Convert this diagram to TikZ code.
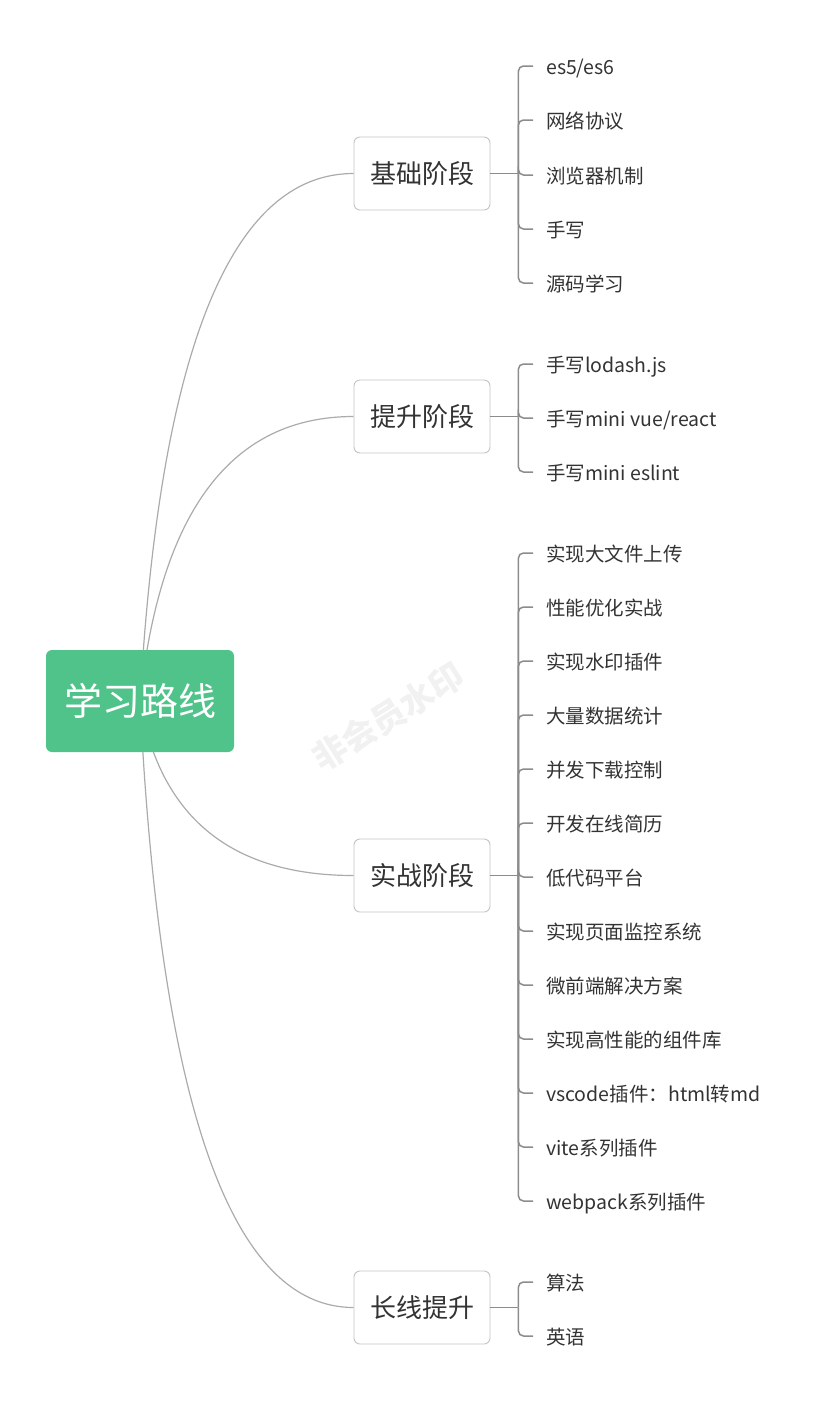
\documentclass[tikz,border=0pt]{standalone}
\usepackage{fontspec}
\setmainfont{Noto Sans CJK SC}
\usetikzlibrary{calc,backgrounds}
\definecolor{rootgreen}{HTML}{50C38A}
\definecolor{textgray}{HTML}{333333}
\definecolor{boxgray}{HTML}{C4C4C4}
\definecolor{trunkgray}{HTML}{ABABAB}
\definecolor{twiggray}{HTML}{8C8C8C}
\definecolor{wmgray}{HTML}{F1F1F1}
\begin{document}
\begin{tikzpicture}[x=1pt,y=1pt]
        \tikzstyle{root}=[rectangle,rounded corners=6pt,fill=rootgreen,text=white,minimum width=188pt,minimum height=102pt,font=\fontsize{38}{40}\selectfont]
        \tikzstyle{stage}=[rectangle,rounded corners=6pt,draw=boxgray,line width=0.9pt,fill=white,text=textgray,minimum width=136pt,minimum height=73pt,font=\fontsize{26}{28}\selectfont]
        \tikzstyle{topic}=[anchor=west,inner xsep=13pt,inner ysep=0pt,text height=17pt,text depth=0pt,text=textgray,font=\fontsize{19.5}{22}\selectfont]
        \tikzstyle{trunk}=[draw=trunkgray,line width=1.2pt]
        \tikzstyle{twig}=[draw=twiggray,line width=1.5pt,rounded corners=5pt]
        \tikzstyle{stamp}=[rotate=32,text=wmgray,font=\fontsize{34}{36}\selectfont\bfseries]
        \useasboundingbox (0,0) rectangle (828,-1401);
        \node [stamp] (wm) at (388,-717) {非会员水印};
        \node [root] (root) at (140,-701) {学习路线};
        \node [stage] (jc) at (422,-173.5) {基础阶段};
        \node [stage] (ts) at (422,-416.5) {提升阶段};
        \node [stage] (sz) at (422,-875.5) {实战阶段};
        \node [stage] (cx) at (422,-1307.5) {长线提升};
        % basics
        \node [topic] (jc1) at (533,-66) {es5/es6};
        \node [topic] (jc2) at (533,-120) {网络协议};
        \node [topic] (jc3) at (533,-175) {浏览器机制};
        \node [topic] (jc4) at (533,-229) {手写};
        \node [topic] (jc5) at (533,-283) {源码学习};
        % level up
        \node [topic] (ts1) at (533,-364) {手写lodash.js};
        \node [topic] (ts2) at (533,-418) {手写mini vue/react};
        \node [topic] (ts3) at (533,-472) {手写mini eslint};
        % practice
        \node [topic] (sz1) at (533,-553) {实现大文件上传};
        \node [topic] (sz2) at (533,-607) {性能优化实战};
        \node [topic] (sz3) at (533,-661) {实现水印插件};
        \node [topic] (sz4) at (533,-715) {大量数据统计};
        \node [topic] (sz5) at (533,-769) {并发下载控制};
        \node [topic] (sz6) at (533,-823) {开发在线简历};
        \node [topic] (sz7) at (533,-877) {低代码平台};
        \node [topic] (sz8) at (533,-931) {实现页面监控系统};
        \node [topic] (sz9) at (533,-985) {微前端解决方案};
        \node [topic] (sz10) at (533,-1039) {实现高性能的组件库};
        \node [topic] (sz11) at (533,-1093) {vscode插件：html转md};
        \node [topic] (sz12) at (533,-1147) {vite系列插件};
        \node [topic] (sz13) at (533,-1201) {webpack系列插件};
        % long run
        \node [topic] (cx1) at (533,-1282) {算法};
        \node [topic] (cx2) at (533,-1336) {英语};
        % curves from the root
        \begin{scope}[on background layer]
                \foreach \n in {jc,ts,sz,cx}
                        \draw [trunk] (root.center) .. controls ($(root.center)!2/3!(root.center |- \n.west)+(20pt,0)$) and ($(\n.west)!2/3!(root.center |- \n.west)+(20pt,0)$) .. (\n.west);
        \end{scope}
        % brackets
        \coordinate (jcb) at ($(jc.east)+(28pt,0)$);
        \coordinate (tsb) at ($(ts.east)+(28pt,0)$);
        \coordinate (szb) at ($(sz.east)+(28pt,0)$);
        \coordinate (cxb) at ($(cx.east)+(28pt,0)$);
        \path [twig] (jc.east) -- (jcb);
        \path [twig] (ts.east) -- (tsb);
        \path [twig] (sz.east) -- (szb);
        \path [twig] (cx.east) -- (cxb);
        \foreach \t in {jc1,jc2,jc3,jc4,jc5}
                \path [twig] (jcb) |- (\t.west);
        \foreach \t in {ts1,ts2,ts3}
                \path [twig] (tsb) |- (\t.west);
        \foreach \t in {sz1,sz2,sz3,sz4,sz5,sz6,sz7,sz8,sz9,sz10,sz11,sz12,sz13}
                \path [twig] (szb) |- (\t.west);
        \foreach \t in {cx1,cx2}
                \path [twig] (cxb) |- (\t.west);
\end{tikzpicture}
\end{document}
